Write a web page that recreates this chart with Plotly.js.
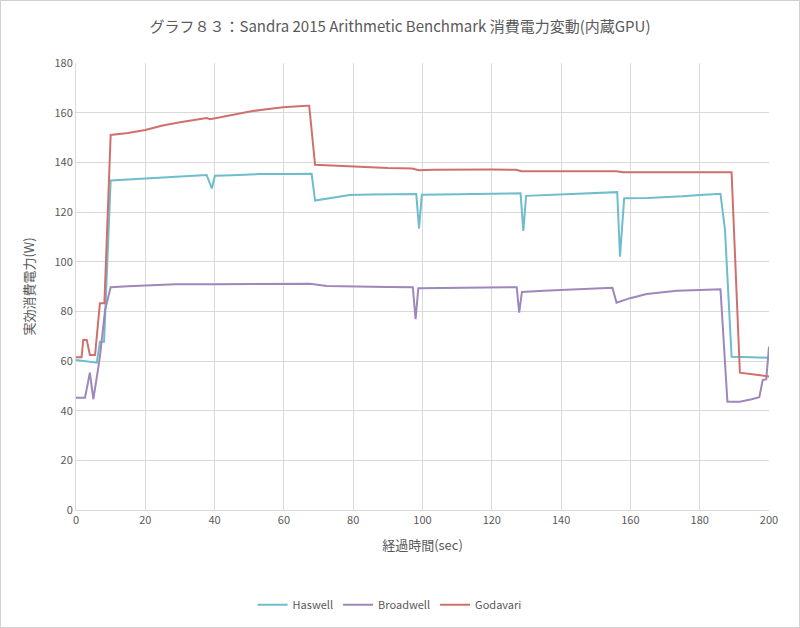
<!DOCTYPE html>
<html>
<head>
<meta charset="utf-8">
<script src="https://cdn.plot.ly/plotly-3.0.1.min.js"></script>
<style>
html,body{margin:0;padding:0;background:#fff;}
#frame{position:absolute;left:0;top:0;width:798px;height:626px;border:1px solid #d0d0d0;}
#chart{width:800px;height:628px;}
</style>
</head>
<body>
<div id="chart"></div>
<div id="frame"></div>
<script>
// Haswell
const haswellX = [0, 2, 4, 6, 6.9, 8.1, 10, 15, 20, 25, 30, 37.7, 39.2, 40.1, 45, 53.1, 60, 68, 69, 72, 75, 79, 85, 90, 98.2, 99, 99.8, 105, 110, 115, 120, 128.3, 129.1, 129.9, 135, 140, 145, 150, 156.2, 157, 158.2, 165, 170, 175, 180, 186, 187.3, 189.2, 195, 200];
const haswellY = [60.4, 60, 59.6, 59.3, 67.8, 67.8, 132.7, 133.1, 133.5, 134, 134.5, 134.9, 129.5, 134.6, 134.8, 135.3, 135.3, 135.4, 124.6, 125.3, 126, 126.8, 127, 127, 127.2, 113.4, 126.9, 127, 127.2, 127.2, 127.3, 127.5, 112.4, 126.5, 126.8, 127, 127.5, 127.8, 128, 102, 125.5, 125.6, 125.9, 126.3, 126.8, 127.3, 112.8, 61.7, 61.5, 61.3];
// Broadwell
const broadwellX = [0, 2.6, 4, 5, 6.4, 7, 8.4, 10, 15, 24, 28.6, 40, 57, 67.5, 72.4, 80, 90, 97.2, 98, 98.8, 110, 120, 127.2, 127.9, 128.7, 135, 145, 154.8, 156, 159.9, 164.7, 173.4, 180, 186, 188, 191.6, 195, 197.2, 198.2, 199.2, 200];
const broadwellY = [45.2, 45.2, 55.3, 44.6, 57, 63, 80.6, 89.7, 90.1, 90.6, 90.9, 90.9, 91.1, 91.1, 90.2, 89.9, 89.8, 89.7, 76.8, 89.3, 89.5, 89.7, 89.7, 79.5, 87.8, 88.3, 88.8, 89.5, 83.5, 85.3, 87, 88.3, 88.6, 88.9, 43.6, 43.6, 44.6, 45.4, 52.4, 52.6, 65.8];
// Godavari
const godavariX = [0, 1.6, 2.1, 3.1, 4, 5.5, 6.9, 8.2, 10, 15, 20, 25, 30, 37.7, 38.7, 45, 50.2, 55, 59.8, 66.6, 67.3, 69, 75, 79.1, 85, 90, 97, 99, 103, 110, 120, 127, 128.5, 140, 150, 156, 157.9, 170, 180, 189.2, 191.6, 195, 200];
const godavariY = [61.5, 61.5, 68.5, 68.5, 62.4, 62.4, 83.3, 83.3, 151, 151.8, 153, 154.8, 156.1, 157.8, 157.4, 159, 160.5, 161.4, 162.2, 162.8, 162.8, 139, 138.6, 138.3, 137.8, 137.7, 137.5, 136.8, 137, 137.1, 137.1, 137, 136.4, 136.4, 136.4, 136.4, 136, 136, 136, 136, 55.3, 54.6, 53.8];

const fontJP = '"Noto Sans CJK JP", "Noto Sans", sans-serif';
const grey = '#595959';

const traces = [
  {name: 'Haswell', x: haswellX, y: haswellY, type: 'scatter', mode: 'lines', line: {color: '#6fbdcc', width: 2}},
  {name: 'Broadwell', x: broadwellX, y: broadwellY, type: 'scatter', mode: 'lines', line: {color: '#9e87bb', width: 2}},
  {name: 'Godavari', x: godavariX, y: godavariY, type: 'scatter', mode: 'lines', line: {color: '#cf706d', width: 2}}
];

const layout = {
  width: 800, height: 628,
  paper_bgcolor: '#ffffff', plot_bgcolor: '#ffffff',
  margin: {l: 76, r: 31, t: 63, b: 118},
  font: {family: fontJP, color: grey, size: 11},
  title: {text: 'グラフ８３：Sandra 2015 Arithmetic Benchmark 消費電力変動(内蔵GPU)', x: 0.5, xanchor: 'center', y: 0.957, yanchor: 'middle', font: {family: fontJP, size: 15, color: grey}},
  xaxis: {
    range: [0, 200], dtick: 20, tick0: 0,
    showgrid: true, gridcolor: '#d9d9d9', gridwidth: 1,
    showline: true, linecolor: '#d9d9d9', linewidth: 1,
    zeroline: false, ticks: '', ticklen: 0,
    tickfont: {size: 11, color: grey},
    title: {text: '経過時間(sec)', font: {size: 13, color: grey}, standoff: 14}
  },
  yaxis: {
    range: [0, 180], dtick: 20, tick0: 0,
    showgrid: true, gridcolor: '#d9d9d9', gridwidth: 1,
    showline: true, linecolor: '#d9d9d9', linewidth: 1,
    zeroline: false, ticks: '', ticklen: 0,
    tickfont: {size: 11, color: grey},
    title: {text: '実効消費電力(W)', font: {size: 13, color: grey}, standoff: 16}
  },
  legend: {orientation: 'h', x: 0.487, xanchor: 'center', xref: 'container', y: 0.037, yref: 'container', yanchor: 'middle', font: {size: 11, color: grey}, itemwidth: 30},
  showlegend: true
};

Plotly.newPlot('chart', traces, layout, {staticPlot: true, displayModeBar: false});
</script>
</body>
</html>
